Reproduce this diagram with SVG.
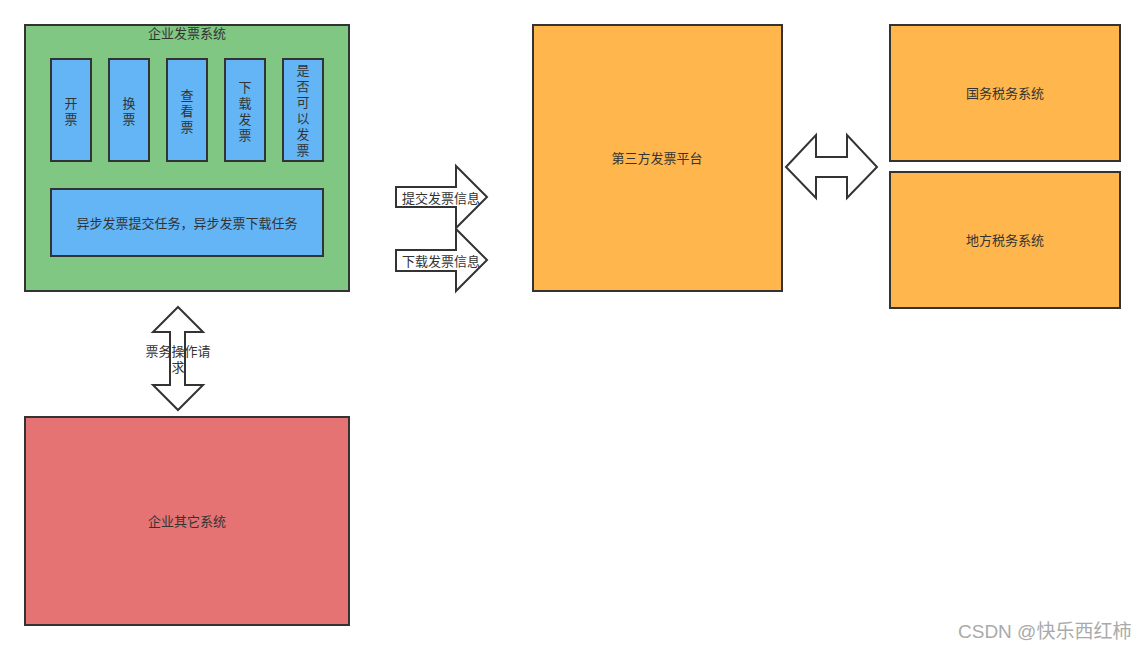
<svg xmlns="http://www.w3.org/2000/svg" width="1145" height="650" viewBox="0 0 1145 650">
<style>
.box{stroke:#333;stroke-width:2}
.g{fill:#81C784}.b{fill:#64B5F6}.o{fill:#FFB74D}.r{fill:#E57373}
.arr{fill:#fff;stroke:#333;stroke-width:2;stroke-linejoin:miter}
text{font-family:"Liberation Sans","Noto Sans CJK SC",sans-serif;font-size:13px;fill:#333;text-anchor:middle;dominant-baseline:central}
.wm{font-size:19px;fill:#aaa;text-anchor:start}
</style>
<rect width="1145" height="650" fill="#fff"/>
<g id="enterprise">
<rect class="box g" x="25" y="25" width="324" height="266"/>
<text x="187" y="33">企业发票系统</text>
</g>
<g id="kaipiao"><rect class="box b" x="51" y="59" width="40" height="102"/><text x="71" y="103">开</text><text x="71" y="119">票</text></g>
<g id="huanpiao"><rect class="box b" x="109" y="59" width="40" height="102"/><text x="129" y="103">换</text><text x="129" y="119">票</text></g>
<g id="chakan"><rect class="box b" x="167" y="59" width="40" height="102"/><text x="187" y="95">查</text><text x="187" y="111">看</text><text x="187" y="127">票</text></g>
<g id="xiazai"><rect class="box b" x="225" y="59" width="40" height="102"/><text x="245" y="87">下</text><text x="245" y="103">载</text><text x="245" y="119">发</text><text x="245" y="135">票</text></g>
<g id="shifou"><rect class="box b" x="283" y="59" width="40" height="102"/><text x="303" y="70">是</text><text x="303" y="86">否</text><text x="303" y="102">可</text><text x="303" y="118">以</text><text x="303" y="134">发</text><text x="303" y="150">票</text></g>
<g id="async"><rect class="box b" x="51" y="189" width="272" height="67"/><text x="187" y="223">异步发票提交任务，异步发票下载任务</text></g>
<g id="other"><rect class="box r" x="25" y="417" width="324" height="208"/><text x="187" y="521">企业其它系统</text></g>
<g id="third"><rect class="box o" x="533" y="25" width="249" height="266"/><text x="657" y="158">第三方发票平台</text></g>
<g id="guowu"><rect class="box o" x="890" y="25" width="230" height="136"/><text x="1005" y="93">国务税务系统</text></g>
<g id="difang"><rect class="box o" x="890" y="172" width="230" height="136"/><text x="1005" y="240">地方税务系统</text></g>
<g id="connectors">
<path class="arr" d="M396,187 H456 V166 L487,197 L456,228 V207 H396 Z"/>
<text x="441" y="198">提交发票信息</text>
<path class="arr" d="M396,250 H456 V229 L487,260 L456,291 V271 H396 Z"/>
<text x="441" y="261">下载发票信息</text>
<path class="arr" d="M178,307 L203,332 H185 V385 H203 L178,410 L153,385 H170 V332 H153 Z"/>
<text x="178" y="351">票务操作请</text>
<text x="178" y="367">求</text>
<path class="arr" d="M786,167 L816,135 V157 H847 V135 L877,167 L847,198 V177 H816 V198 Z"/>
</g>
<text class="wm" x="958" y="631">CSDN @快乐西红柿</text>
</svg>
